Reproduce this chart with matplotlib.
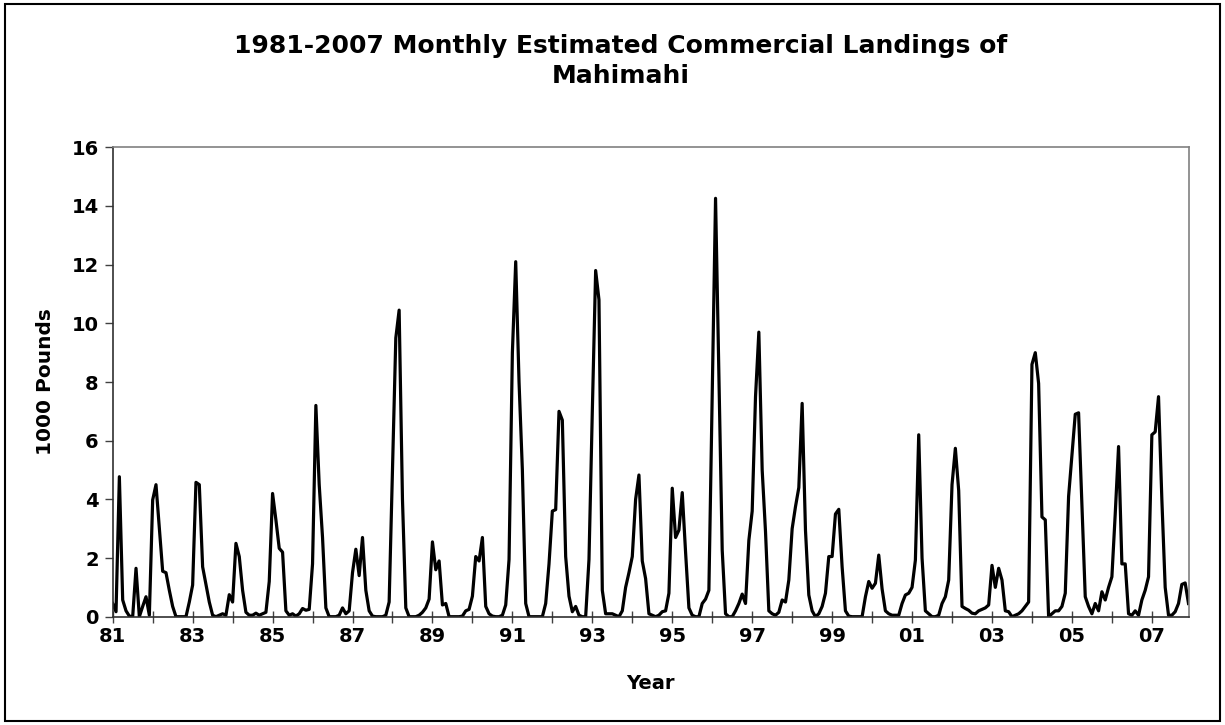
import matplotlib
matplotlib.use("Agg")
import matplotlib.pyplot as plt
from matplotlib.patches import Rectangle
import numpy as np

plt.rcParams['font.family'] = ['DejaVu Sans']

# Monthly landings (1000 lb), Jan..Dec for each year 1981-2007
years = list(range(1981, 2008))
landings = {
    1981: [0.45, 0.17, 4.77, 0.57, 0.2, 0.02, 0.0, 1.65, 0.0, 0.35, 0.68, 0.05],
    1982: [3.98, 4.5, 3.0, 1.55, 1.5, 0.9, 0.35, 0.0, 0.0, 0.0, 0.0, 0.5],
    1983: [1.08, 4.58, 4.5, 1.7, 1.1, 0.5, 0.05, 0.0, 0.05, 0.1, 0.05, 0.75],
    1984: [0.5, 2.5, 2.05, 0.9, 0.15, 0.05, 0.05, 0.12, 0.05, 0.1, 0.15, 1.2],
    1985: [4.2, 3.3, 2.33, 2.2, 0.2, 0.05, 0.1, 0.02, 0.1, 0.28, 0.22, 0.25],
    1986: [1.8, 7.2, 4.5, 2.7, 0.3, 0.0, 0.0, 0.0, 0.05, 0.3, 0.1, 0.2],
    1987: [1.5, 2.3, 1.4, 2.7, 0.9, 0.2, 0.02, 0.0, 0.0, 0.0, 0.05, 0.5],
    1988: [5.0, 9.5, 10.45, 4.0, 0.3, 0.0, 0.0, 0.0, 0.05, 0.15, 0.3, 0.6],
    1989: [2.55, 1.6, 1.9, 0.4, 0.45, 0.0, 0.0, 0.0, 0.0, 0.02, 0.2, 0.25],
    1990: [0.7, 2.05, 1.9, 2.7, 0.35, 0.1, 0.02, 0.0, 0.0, 0.05, 0.4, 1.95],
    1991: [9.0, 12.1, 8.0, 5.0, 0.45, 0.0, 0.0, 0.0, 0.0, 0.0, 0.45, 1.8],
    1992: [3.6, 3.65, 7.0, 6.7, 2.05, 0.7, 0.17, 0.35, 0.05, 0.0, 0.0, 1.95],
    1993: [7.0, 11.8, 10.8, 0.9, 0.1, 0.1, 0.1, 0.05, 0.0, 0.2, 1.0, 1.5],
    1994: [2.05, 4.0, 4.83, 1.9, 1.3, 0.1, 0.05, 0.0, 0.05, 0.17, 0.2, 0.8],
    1995: [4.38, 2.7, 2.95, 4.23, 2.2, 0.3, 0.05, 0.0, 0.0, 0.45, 0.6, 0.9],
    1996: [7.5, 14.26, 8.3, 2.27, 0.1, 0.0, 0.0, 0.2, 0.45, 0.77, 0.45, 2.6],
    1997: [3.6, 7.5, 9.7, 5.0, 2.9, 0.2, 0.1, 0.05, 0.15, 0.57, 0.5, 1.25],
    1998: [3.0, 3.75, 4.4, 7.27, 2.95, 0.74, 0.2, 0.0, 0.1, 0.35, 0.8, 2.05],
    1999: [2.05, 3.5, 3.66, 1.7, 0.2, 0.02, 0.0, 0.0, 0.0, 0.0, 0.68, 1.2],
    2000: [0.97, 1.14, 2.1, 0.95, 0.2, 0.1, 0.05, 0.05, 0.05, 0.45, 0.74, 0.8],
    2001: [1.0, 1.93, 6.2, 2.0, 0.2, 0.1, 0.0, 0.0, 0.05, 0.45, 0.68, 1.25],
    2002: [4.5, 5.74, 4.3, 0.35, 0.28, 0.22, 0.12, 0.1, 0.2, 0.25, 0.3, 0.4],
    2003: [1.75, 1.0, 1.65, 1.25, 0.2, 0.17, 0.0, 0.05, 0.1, 0.2, 0.35, 0.5],
    2004: [8.6, 9.0, 7.95, 3.4, 3.3, 0.0, 0.1, 0.2, 0.2, 0.35, 0.8, 4.1],
    2005: [5.5, 6.9, 6.95, 3.8, 0.68, 0.35, 0.1, 0.45, 0.2, 0.85, 0.57, 1.0],
    2006: [1.36, 3.5, 5.8, 1.8, 1.8, 0.1, 0.05, 0.2, 0.05, 0.57, 0.9, 1.36],
    2007: [6.2, 6.3, 7.5, 4.0, 1.0, 0.05, 0.05, 0.17, 0.45, 1.1, 1.15, 0.45],
}

tick_years = list(range(81, 108))
tick_labels = [f"{y % 100:02d}" if (y - 81) % 2 == 0 else "" for y in tick_years]
y_ticks = [0, 2, 4, 6, 8, 10, 12, 14, 16]

values = np.concatenate([landings[y] for y in years])
xpos = 81 + np.arange(len(values)) / 12.0

W, H = 1225, 725
fig = plt.figure(figsize=(W / 100, H / 100), dpi=100)
ax = fig.add_axes([112.7 / W, 1 - 616.7 / H, (1188.5 - 112.7) / W, (616.7 - 147.3) / H])

ax.plot(xpos, values, color='black', linewidth=2.3, solid_joinstyle='round')

ax.set_xlim(81, 81 + (len(values) - 1) / 12.0)
ax.set_ylim(0, 16)
ax.set_xticks(tick_years)
ax.set_xticklabels(tick_labels, fontsize=14, fontweight='bold')
ax.set_yticks(y_ticks)
ax.set_yticklabels([str(v) for v in y_ticks], fontsize=14, fontweight='bold')
ax.tick_params(axis='x', direction='inout', length=9, width=1, color='#404040', pad=3)
ax.tick_params(axis='y', direction='out', length=6, width=1, color='#404040', pad=4)

for s in ['top', 'right']:
    ax.spines[s].set_color('#808080')
    ax.spines[s].set_linewidth(1.2)
for s in ['left', 'bottom']:
    ax.spines[s].set_color('#303030')
    ax.spines[s].set_linewidth(1.2)

ax.set_xlabel('Year', fontsize=14, fontweight='bold', labelpad=20)
ax.set_ylabel('1000 Pounds', fontsize=14.5, fontweight='bold', labelpad=12)

fig.text(621 / W, 1 - 61 / H,
         '1981-2007 Monthly Estimated Commercial Landings of\nMahimahi',
         ha='center', va='center', fontsize=18, fontweight='bold', linespacing=1.3)

fig.patches.append(Rectangle((5 / W, 4 / H), 1215 / W, 717 / H, transform=fig.transFigure,
                             fill=False, edgecolor='black', linewidth=1.5))

fig.savefig('out.png', dpi=100)
